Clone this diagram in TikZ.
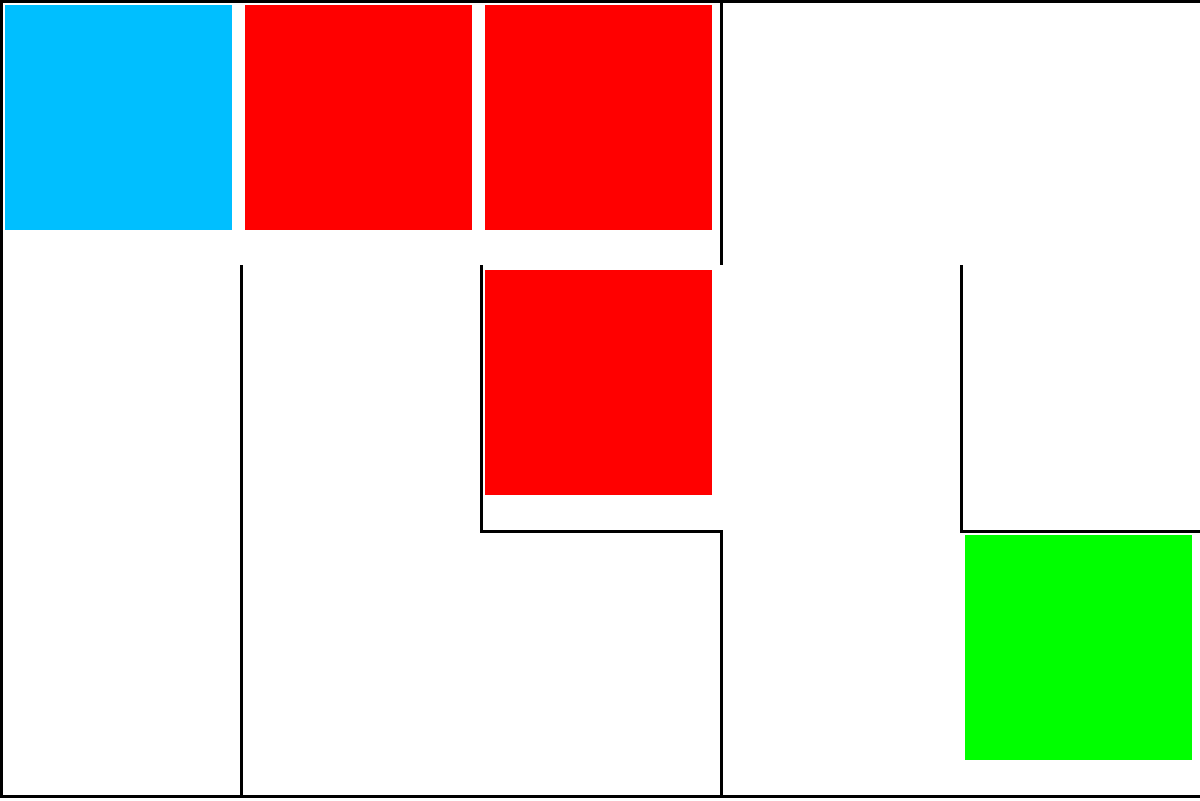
\documentclass[tikz,border=0pt]{standalone}
\begin{document}
\begin{tikzpicture}[x=0.5pt,y=-0.5pt,
  cellbox/.style={draw=none,inner sep=0pt,outer sep=0pt,minimum width=113.5pt,minimum height=112.5pt},
  wall/.style={draw=black,line width=1.5pt,line cap=butt,line join=miter}]
\definecolor{cblue}{HTML}{00BFFF}
\definecolor{cred}{HTML}{FF0000}
\definecolor{cgreen}{HTML}{00FF00}
\useasboundingbox (0,0) rectangle (1200,800);
\fill[white] (0,0) rectangle (1200,800);
\node[cellbox,fill=cblue] (start) at (118.5,117.5) {};
\node[cellbox,fill=cred] (r1) at (358.5,117.5) {};
\node[cellbox,fill=cred] (r2) at (598.5,117.5) {};
\node[cellbox,fill=cred] (r3) at (598.5,382.5) {};
\node[cellbox,fill=cgreen] (goal) at (1078.5,647.5) {};
% outer walls
\draw[wall] (1200,1.5) -- (1.5,1.5) -- (1.5,796.5) -- (1200,796.5);
% inner walls
\draw[wall] (721.5,0) -- (721.5,265);
\draw[wall] (241.5,265) -- (241.5,796.5);
\draw[wall] (481.5,265) -- (481.5,531.5) -- (721.5,531.5) -- (721.5,796.5);
\draw[wall] (961.5,265) -- (961.5,531.5) -- (1200,531.5);
\end{tikzpicture}
\end{document}
